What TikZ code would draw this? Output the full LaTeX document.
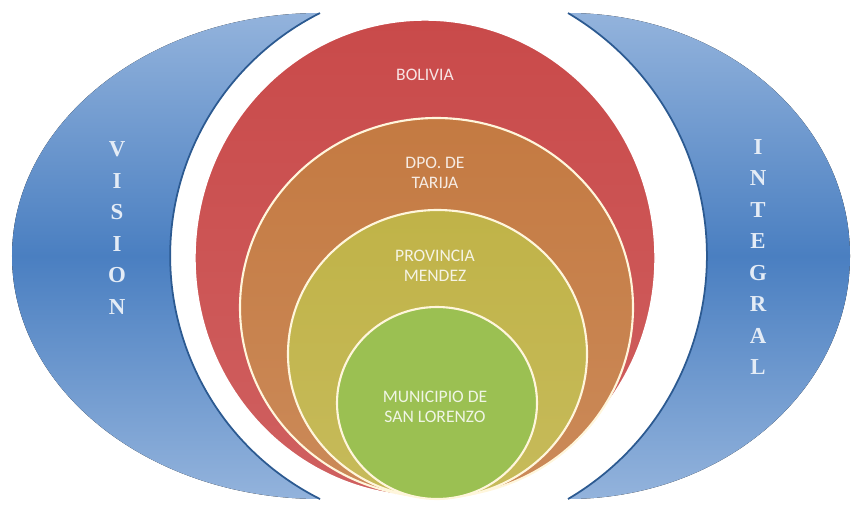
\documentclass[tikz,border=0pt]{standalone}
\usepackage{fontspec}
\setmainfont{Liberation Serif}
\newfontfamily\ringfont{Carlito}
\definecolor{cresclight}{HTML}{93B3DC}
\definecolor{crescblue}{HTML}{4A7FC1}
\definecolor{crescedge}{HTML}{2C5A91}
\definecolor{ringred}{HTML}{C94A4A}
\definecolor{ringorange}{HTML}{C47A42}
\definecolor{ringolive}{HTML}{C0B348}
\definecolor{ringgreen}{HTML}{9BC052}
\definecolor{ringline}{HTML}{FFF6DC}
\tikzset{
	crescent/.style={top color=cresclight, bottom color=cresclight, middle color=crescblue},
	ring/.style={draw=ringline, line width=1.2pt},
	ringtxt/.style={font=\ringfont\fontsize{10}{11.5}\selectfont, text=white, text opacity=0.85, align=center},
	crestxt/.style={font=\bfseries\fontsize{13}{17.9}\selectfont, text=white!85!crescblue, align=center}
}

\begin{document}
\begin{tikzpicture}
				\useasboundingbox (0,0) rectangle (17.06,10.12);
				
				\fill[crescent] (6.4,9.86) arc[start angle=90, end angle=270, x radius=6.16, y radius=4.86] arc[start angle=243.3, end angle=116.7, radius=5.44] -- cycle;
				\draw[crescedge, line width=1pt] (6.4,0.14) arc[start angle=243.3, end angle=116.7, radius=5.44];
				
				\fill[crescent] (11.36,9.86) arc[start angle=90, end angle=-90, x radius=5.64, y radius=4.86] arc[start angle=-59.5, end angle=59.5, radius=5.64] -- cycle;
				\draw[crescedge, line width=1pt] (11.36,0.14) arc[start angle=-59.5, end angle=59.5, radius=5.64];
				
				\draw[draw=white, line width=0.8pt, top color=ringred, bottom color=ringred!88!white] (8.5,4.96) ellipse [x radius=4.6, y radius=4.76];
				\draw[ring, top color=ringorange, bottom color=ringorange!88!white] (8.73,3.97) ellipse [x radius=3.93, y radius=3.79];
				\draw[ring, top color=ringolive, bottom color=ringolive!90!white] (8.75,3.04) ellipse [x radius=2.99, y radius=2.88];
				\draw[ring, fill=ringgreen] (8.74,2.06) ellipse [x radius=2.0, y radius=1.92];
				
				\node[ringtxt] (bolivia) at (8.5,8.62) {BOLIVIA};
				\node[ringtxt] (tarija) at (8.7,6.66) {DPO. DE\\TARIJA};
				\node[ringtxt] (mendez) at (8.7,4.8) {PROVINCIA\\MENDEZ};
				\node[ringtxt] (lorenzo) at (8.7,1.98) {MUNICIPIO DE\\SAN LORENZO};
				
				\node[crestxt] (vision) at (2.34,5.56) {V\\I\\S\\I\\O\\N};
				\node[crestxt] (integral) at (15.16,4.98) {I\\N\\T\\E\\G\\R\\A\\L};
			\end{tikzpicture}
\end{document}
